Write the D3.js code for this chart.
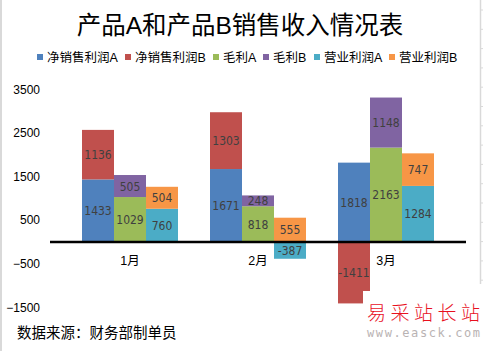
<!DOCTYPE html>
<html>
<head>
<meta charset="utf-8">
<script src="https://cdn.jsdelivr.net/npm/d3@7"></script>
<style>
  body { margin: 0; background: #fff; }
  svg { display: block; }
</style>
</head>
<body>
<div id="chart"></div>
<script>
// data
let months = ["1月", "2月", "3月"];
let netA = [1433, 1671, 1818];
let netB = [1136, 1303, -1411];
let grossA = [1029, 818, 2163];
let grossB = [505, 248, 1148];
let opA = [760, -387, 1284];
let opB = [504, 555, 747];
let yTicks = [-1500, -500, 500, 1500, 2500, 3500];

let seriesNames = ["净销售利润A", "净销售利润B", "毛利A", "毛利B", "营业利润A", "营业利润B"];
let colors = ["#4F81BD", "#C0504D", "#9BBB59", "#8064A2", "#4BACC6", "#F79646"];

// three stacks per month, two series in each
let stacks = [
  { keys: [0, 1], vals: [netA, netB] },
  { keys: [2, 3], vals: [grossA, grossB] },
  { keys: [4, 5], vals: [opA, opB] }
];

let width = 483, height = 351;

let svg = d3.select("#chart").append("svg")
  .attr("width", width).attr("height", height);

// sheet edges behind the chart
svg.append("rect").attr("x", 0).attr("y", 0).attr("width", 2).attr("height", height).attr("fill", "#d9d9d9");
svg.append("line").attr("x1", 480.5).attr("x2", 480.5).attr("y1", 0).attr("y2", 284)
  .attr("stroke", "#d9d9d9").attr("stroke-width", 1.5);
for (let y = 10; y < 284; y += 19.3) {
  svg.append("line").attr("x1", 480).attr("x2", 483).attr("y1", y).attr("y2", y)
    .attr("stroke", "#d9d9d9");
}

let font = "'Liberation Sans', Arial, 'Noto Sans CJK SC', sans-serif";

// title
svg.append("text")
  .attr("x", 240).attr("y", 34)
  .attr("text-anchor", "middle")
  .attr("font-family", font)
  .attr("font-size", 24.5)
  .attr("fill", "#000")
  .text("产品A和产品B销售收入情况表");

// legend
let legendX = [37, 125, 213, 263, 314, 389];
let legend = svg.append("g").selectAll("g")
  .data(seriesNames)
  .enter().append("g")
  .attr("transform", (d, i) => `translate(${legendX[i]}, 57)`);
legend.append("rect")
  .attr("x", 0).attr("y", -3).attr("width", 6).attr("height", 6)
  .attr("fill", (d, i) => colors[i]);
legend.append("text")
  .attr("x", 10).attr("y", 4.5)
  .attr("font-family", font)
  .attr("font-size", 12.5)
  .attr("fill", "#000")
  .text(d => d);

// scales
let xScale = d3.scaleBand()
  .domain(months)
  .range([66, 450])
  .paddingInner(0.25)
  .paddingOuter(0.125);
let yScale = d3.scaleLinear()
  .domain([-1500, 3500])
  .range([307.3, 89.3]);

let sub = d3.scaleBand()
  .domain([0, 1, 2])
  .range([0, xScale.bandwidth()]);

// y axis, labels only
let yAxis = svg.append("g")
  .attr("transform", "translate(40, 0)")
  .call(d3.axisLeft(yScale).tickValues(yTicks).tickSize(0).tickPadding(0).tickFormat(d3.format("d")));
yAxis.select(".domain").remove();
yAxis.selectAll("text")
  .attr("font-family", font)
  .attr("font-size", 12)
  .attr("fill", "#000");

// bars
stacks.forEach((s, si) => {
  let rows = months.map((m, mi) => {
    let r = { month: m };
    s.keys.forEach((k, j) => { r[k] = s.vals[j][mi]; });
    return r;
  });
  let layers = d3.stack().keys(s.keys).offset(d3.stackOffsetDiverging)(rows);
  layers.forEach(layer => {
    let g = svg.append("g");
    g.selectAll("rect")
      .data(layer)
      .enter().append("rect")
      .attr("x", d => xScale(d.data.month) + sub(si))
      .attr("width", sub.bandwidth())
      .attr("y", d => yScale(Math.max(d[0], d[1])))
      .attr("height", d => Math.abs(yScale(d[0]) - yScale(d[1])))
      .attr("fill", colors[layer.key]);
    g.selectAll("text")
      .data(layer)
      .enter().append("text")
      .attr("x", d => xScale(d.data.month) + sub(si) + sub.bandwidth() / 2)
      .attr("y", d => yScale((d[0] + d[1]) / 2) + 4.5)
      .attr("text-anchor", "middle")
      .attr("font-family", "'DejaVu Sans Condensed', 'Liberation Sans', sans-serif")
      .attr("font-size", 12)
      .attr("fill", "#404040")
      .text(d => d.data[layer.key]);
  });
});

// zero axis line
svg.append("line")
  .attr("x1", 50).attr("x2", 466)
  .attr("y1", yScale(0)).attr("y2", yScale(0))
  .attr("stroke", "#000").attr("stroke-width", 2.5);

// month labels
svg.append("g").selectAll("text")
  .data(months)
  .enter().append("text")
  .attr("x", d => xScale(d) + xScale.bandwidth() / 2)
  .attr("y", 265)
  .attr("text-anchor", "middle")
  .attr("font-family", font)
  .attr("font-size", 12.5)
  .attr("fill", "#000")
  .text(d => d);

// source note
svg.append("text")
  .attr("x", 17).attr("y", 338)
  .attr("font-family", font)
  .attr("font-size", 14.5)
  .attr("fill", "#000")
  .text("数据来源：财务部制单员");

// watermark
svg.append("rect").attr("x", 363).attr("y", 291).attr("width", 120).attr("height", 60).attr("fill", "#fff");
svg.append("text")
  .attr("x", 367).attr("y", 320)
  .attr("font-family", "'Noto Sans CJK SC', sans-serif")
  .attr("font-size", 19)
  .attr("font-weight", 300)
  .attr("textLength", 113)
  .attr("lengthAdjust", "spacing")
  .attr("fill", "#e8101e")
  .text("易采站长站");
svg.append("text")
  .attr("x", 367).attr("y", 337)
  .attr("font-family", "'DejaVu Sans Mono', monospace")
  .attr("font-size", 12)
  .attr("textLength", 113)
  .attr("lengthAdjust", "spacing")
  .attr("fill", "#b9b3b3")
  .text("www.easck.com");
</script>
</body>
</html>
